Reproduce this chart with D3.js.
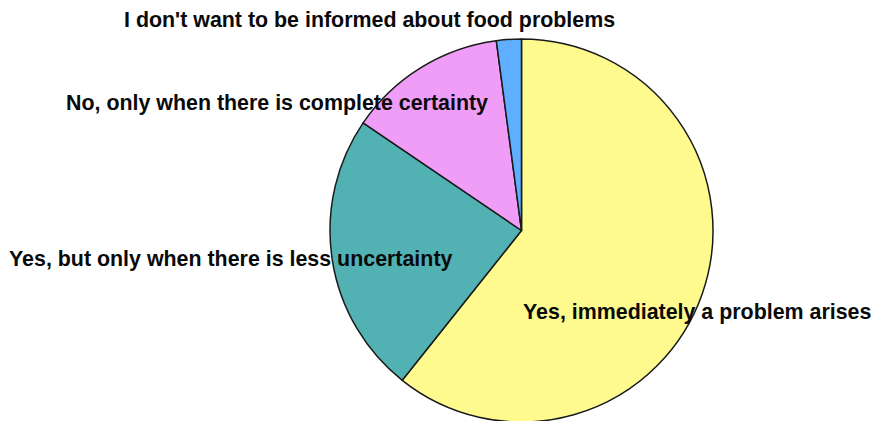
<!DOCTYPE html>
<html><head><meta charset="utf-8">
<script src="https://cdn.jsdelivr.net/npm/d3@7/dist/d3.min.js"></script>
<style>body{margin:0;background:#fff}svg{display:block}</style>
</head><body>
<svg id="c" width="873" height="421"></svg>
<script>
const categories = [
  "Yes, immediately a problem arises",
  "Yes, but only when there is less uncertainty",
  "No, only when there is complete certainty",
  "I don't want to be informed about food problems"
];
const values = [60.7, 23.8, 13.4, 2.1];
const colors = ["#FEFA8E", "#52B1B2", "#EF9DF7", "#5FAEFF"];
// label anchor positions (layout)
const labelPos = [[523, 319], [9, 266], [66, 110], [124, 27]];

const svg = d3.select("#c");
const cx = 521.5, cy = 230.5, r = 191.5;
const pie = d3.pie().sort(null).value(d => d)(values);
const arc = d3.arc().innerRadius(0).outerRadius(r);
const g = svg.append("g").attr("transform", `translate(${cx},${cy})`);
g.selectAll("path").data(pie).join("path")
  .attr("d", arc)
  .attr("fill", (d, i) => colors[i])
  .attr("stroke", "#1a1a1a")
  .attr("stroke-width", 1.5)
  .attr("stroke-linejoin", "round");

svg.selectAll("text.lbl").data(categories).join("text")
  .attr("class", "lbl")
  .attr("x", (d, i) => labelPos[i][0])
  .attr("y", (d, i) => labelPos[i][1])
  .attr("font-family", "Liberation Sans, Arial, sans-serif")
  .attr("font-weight", "bold")
  .attr("font-size", 21.4)
  .attr("fill", "#0a0a0a")
  .text(d => d);
</script>
</body></html>
